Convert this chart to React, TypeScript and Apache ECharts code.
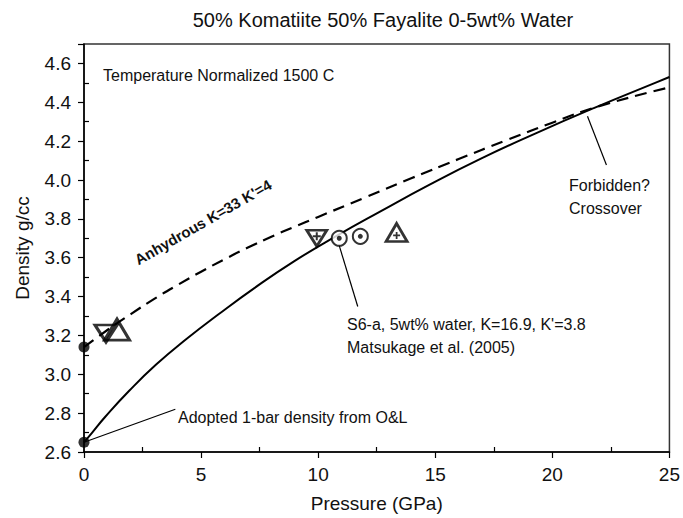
import React, { useEffect, useRef } from 'react';
import * as echarts from 'echarts';

// Hydrous curve: S6-a, 5wt% water, K=16.9, K'=3.8 (solid)
const pressureSolid = [0, 0.35, 0.9, 1.93, 3.08, 4.36, 5.76, 7.29, 8.95, 10.75, 12.68, 14.74, 16.95, 19.29, 21.77, 24.39, 25];
const densitySolid = [2.65, 2.7, 2.78, 2.915, 3.05, 3.18, 3.31, 3.445, 3.58, 3.71, 3.84, 3.975, 4.11, 4.24, 4.37, 4.5, 4.53];

// Anhydrous curve K=33 K'=4 (dashed)
const pressureDashed = [0, 1, 2, 3, 4, 5, 6, 7, 8, 9, 10, 12, 14, 16, 18, 20, 22, 25];
const densityDashed = [3.14, 3.228, 3.31, 3.388, 3.46, 3.528, 3.592, 3.652, 3.708, 3.76, 3.81, 3.91, 4.01, 4.108, 4.203, 4.295, 4.38, 4.477];

// 1-bar densities (filled dots)
const oneBarPressure = [0, 0];
const oneBarDensity = [2.65, 3.14];

// Experimental points
const invTriBig = [0.94, 3.21];
const upTriBig = [1.41, 3.23];
const invTriPlus = [9.94, 3.7];
const circleDots = [[10.9, 3.7], [11.8, 3.71]];
const upTriPlus = [13.35, 3.73];

// Pointer lines
const pointerAdopted = [[0, 2.65], [3.9, 2.82]];
const pointerS6 = [[10.9, 3.662], [11.69, 3.349]];
const pointerCross = [[21.5, 4.328], [22.31, 4.077]];

const xMajor = [0, 5, 10, 15, 20, 25];
const xMinor = [2.5, 7.5, 12.5, 17.5, 22.5];
const yMinor = [2.7, 2.9, 3.1, 3.3, 3.5, 3.7, 3.9, 4.1, 4.3, 4.5];

const FONT = 'Liberation Sans, Arial, Helvetica, sans-serif';

const zip = (a: number[], b: number[]) => a.map((v, i) => [v, b[i]]);

const INV_TRI = 'path://M0,0L20,0L10,17Z';
const PLUS = 'path://M3,0H5V3H8V5H5V8H3V5H0V3H3Z';

const hollow = { color: 'rgba(0,0,0,0)', borderColor: '#000', borderWidth: 2.8 };

export default function App() {
  const ref = useRef<HTMLDivElement>(null);
  useEffect(() => {
    const chart = echarts.init(ref.current!, null, { renderer: 'svg' });
    const option: any = {
      animation: false,
      backgroundColor: '#fff',
      textStyle: { fontFamily: FONT },
      title: {
        text: '50% Komatiite 50% Fayalite 0-5wt% Water',
        left: 378,
        textAlign: 'center',
        top: 5,
        textStyle: { fontFamily: FONT, fontSize: 20, fontWeight: 'normal', color: '#111' },
      },
      grid: {
        left: 84, right: 13, top: 44, bottom: 65,
        show: true, borderColor: '#333', borderWidth: 1.5, backgroundColor: 'rgba(0,0,0,0)',
      },
      xAxis: [
        {
          type: 'value', min: 0, max: 25, interval: 5,
          name: 'Pressure (GPa)', nameLocation: 'middle', nameGap: 42,
          nameTextStyle: { fontFamily: FONT, fontSize: 19, color: '#111' },
          axisLine: { lineStyle: { color: '#000', width: 1.5 } },
          axisTick: { show: true, length: 6, lineStyle: { color: '#000', width: 1.2 }, customValues: xMajor },
          axisLabel: { fontFamily: FONT, fontSize: 19, color: '#111', margin: 13, customValues: xMajor },
          splitLine: { show: false },
        },
        {
          type: 'value', min: 0, max: 25, position: 'bottom', gridIndex: 0,
          axisLine: { show: false },
          axisTick: { show: true, inside: true, length: 5, lineStyle: { color: '#000', width: 1.2 }, customValues: xMinor },
          axisLabel: { show: false },
          splitLine: { show: false },
        },
      ],
      yAxis: [
        {
          type: 'value', min: 2.6, max: 4.7, interval: 0.2,
          name: 'Density g/cc', nameLocation: 'middle', nameGap: 52,
          nameTextStyle: { fontFamily: FONT, fontSize: 19, color: '#111' },
          axisLine: { show: true, lineStyle: { color: '#000', width: 1.5 } },
          axisTick: { show: true, length: 6, lineStyle: { color: '#000', width: 1.2 } },
          axisLabel: {
            fontFamily: FONT, fontSize: 19, color: '#111', margin: 13,
            formatter: (v: number) => (Math.abs(Math.round(v * 10) % 2) === 0 && v < 4.65 ? v.toFixed(1) : ''),
          },
          splitLine: { show: false },
        },
        {
          type: 'value', min: 2.6, max: 4.7, position: 'left', gridIndex: 0,
          axisLine: { show: false },
          axisTick: { show: true, inside: true, length: 5, lineStyle: { color: '#000', width: 1.2 }, customValues: yMinor },
          axisLabel: { show: false },
          splitLine: { show: false },
        },
      ],
      series: [
        {
          type: 'line', data: zip(pressureSolid, densitySolid), smooth: true, showSymbol: false,
          lineStyle: { color: '#000', width: 2 }, z: 3,
        },
        {
          type: 'line', data: zip(pressureDashed, densityDashed), smooth: true, showSymbol: false,
          lineStyle: { color: '#000', width: 2.2, type: [12, 7] }, z: 3,
        },
        { type: 'line', data: pointerAdopted, showSymbol: false, lineStyle: { color: '#000', width: 1.2 }, z: 2 },
        { type: 'line', data: pointerS6, showSymbol: false, lineStyle: { color: '#000', width: 1.2 }, z: 2 },
        { type: 'line', data: pointerCross, showSymbol: false, lineStyle: { color: '#000', width: 1.2 }, z: 2 },
        {
          type: 'scatter', data: zip(oneBarPressure, oneBarDensity), symbol: 'circle', symbolSize: 11,
          itemStyle: { color: '#000' }, z: 5, clip: false,
        },
        { type: 'scatter', data: [invTriBig], symbol: INV_TRI, symbolSize: [22, 17], itemStyle: { ...hollow, borderWidth: 3 }, z: 5 },
        { type: 'scatter', data: [upTriBig], symbol: 'triangle', symbolSize: [25, 21], itemStyle: { ...hollow, borderWidth: 3 }, z: 5 },
        { type: 'scatter', data: [invTriPlus], symbol: INV_TRI, symbolSize: [20, 16], itemStyle: hollow, z: 5 },
        { type: 'scatter', data: [invTriPlus], symbol: PLUS, symbolSize: 8, symbolOffset: [0, -2], itemStyle: { color: '#000' }, z: 6 },
        { type: 'scatter', data: circleDots, symbol: 'emptyCircle', symbolSize: 15, itemStyle: { color: '#000', borderColor: '#000', borderWidth: 2.2 }, z: 5 },
        { type: 'scatter', data: circleDots, symbol: 'circle', symbolSize: 5, itemStyle: { color: '#000' }, z: 6 },
        { type: 'scatter', data: [upTriPlus], symbol: 'triangle', symbolSize: [21, 18], itemStyle: hollow, z: 5 },
        { type: 'scatter', data: [upTriPlus], symbol: PLUS, symbolSize: 7, symbolOffset: [0, 3], itemStyle: { color: '#000' }, z: 6 },
      ],
      graphic: [
        { type: 'text', left: 103, top: 67, style: { text: 'Temperature Normalized 1500 C', font: `16px ${FONT}`, fill: '#111' } },
        {
          type: 'text', x: 203, y: 222, rotation: (30 * Math.PI) / 180,
          style: { text: "Anhydrous K=33 K'=4", font: `bold 15px ${FONT}`, fill: '#111', align: 'center', verticalAlign: 'middle' },
        },
        { type: 'text', left: 569, top: 174, style: { text: 'Forbidden?\nCrossover', font: `16px ${FONT}`, fill: '#111', lineHeight: 23 } },
        { type: 'text', left: 347, top: 313, style: { text: "S6-a, 5wt% water, K=16.9, K'=3.8\nMatsukage et al. (2005)", font: `16px ${FONT}`, fill: '#111', lineHeight: 23 } },
        { type: 'text', left: 178, top: 409, style: { text: 'Adopted 1-bar density from O&L', font: `16px ${FONT}`, fill: '#111' } },
      ],
    };
    chart.setOption(option);
    return () => chart.dispose();
  }, []);
  return <div ref={ref} style={{ position: 'fixed', left: 0, top: 0, width: 683, height: 518 }} />;
}
